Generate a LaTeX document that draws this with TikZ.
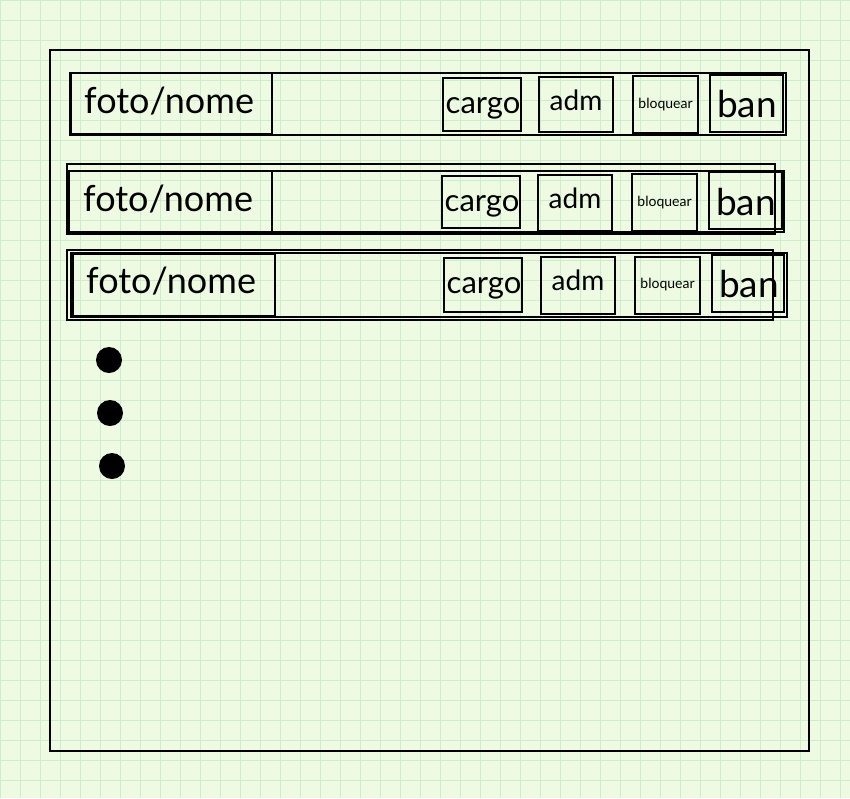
\documentclass[tikz,border=0pt]{standalone}
\usepackage{fontspec}
\setmainfont{Lato}
\definecolor{bgc}{RGB}{239,250,227}
\definecolor{gridc}{RGB}{205,236,205}
\tikzset{
  ln/.style={line width=1.5pt, black},
  thk/.style={line width=2.8pt, black},
  fototxt/.style={anchor=base west, inner sep=0pt, font=\fontsize{36}{40}\selectfont},
  cargotxt/.style={anchor=base, inner sep=0pt, font=\fontsize{31}{35}\selectfont},
  admtxt/.style={anchor=base, inner sep=0pt, font=\fontsize{28}{32}\selectfont},
  bloqtxt/.style={anchor=base, inner sep=0pt, font=\fontsize{14}{16}\selectfont},
  bantxt/.style={anchor=base, inner sep=0pt, font=\fontsize{37}{41}\selectfont},
  dot/.style={circle, fill=black, minimum size=26pt, inner sep=0pt}
}
\begin{document}
\begin{tikzpicture}[x=1pt,y=-1pt]
\useasboundingbox (0,0) rectangle (850,798);
\fill[bgc] (0,0) rectangle (850,798);
\foreach \i in {0,20,...,840} {\draw[gridc, line width=1pt] (\i,0) -- (\i,798);}
\foreach \j in {0,20,...,780} {\draw[gridc, line width=1pt] (0,\j) -- (850,\j);}
% outer frame
\draw[ln] (50,50) rectangle (809,751);
% row 1
\draw[ln] (70,73) rectangle (786,135);
\draw[thk] (786,73) -- (786,135);
\draw[ln] (70,73) rectangle (272,134);
\draw[thk] (71,73) -- (71,134) -- (272,134);
\draw[ln] (443,78) rectangle (521,131);
\draw[ln] (539,77) rectangle (613,132);
\draw[ln] (633,76) rectangle (698,133);
\draw[thk] (633,133) -- (698,133);
\draw[ln] (710,75) rectangle (783,132);
\node[fototxt] (f1) at (84,113) {foto/nome};
\node[cargotxt] (c1) at (483,113) {cargo};
\node[admtxt] (a1) at (576,110.5) {adm};
\node[bloqtxt] (b1) at (665.5,108.5) {bloquear};
\node[bantxt] (n1) at (747,117) {ban};
% row 2
\draw[ln] (67,164) rectangle (775,234);
\draw[ln] (68,171) rectangle (784,232);
\draw[thk] (69,171) -- (69,232) -- (784,232) -- (784,171);
\draw[ln] (68,171) rectangle (272,233);
\draw[ln] (442,176) rectangle (520,228);
\draw[ln] (538,175) rectangle (612,231);
\draw[thk] (538,231) -- (612,231);
\draw[ln] (632,174) rectangle (697,231);
\draw[ln] (709,172) rectangle (782,229);
\node[fototxt] (f2) at (83,211) {foto/nome};
\node[cargotxt] (c2) at (482,211) {cargo};
\node[admtxt] (a2) at (575,208.5) {adm};
\node[bloqtxt] (b2) at (664.5,206.5) {bloquear};
\node[bantxt] (n2) at (746,215) {ban};
% row 3
\draw[ln] (67,250) rectangle (773,320);
\draw[ln] (71,253) rectangle (787,317);
\draw[thk] (787,253) -- (787,317);
\draw[ln] (73,254) rectangle (275,316);
\draw[thk] (73,316) -- (275,316);
\draw[ln] (444,258) rectangle (522,312);
\draw[ln] (541,257) rectangle (615,314);
\draw[ln] (635,257) rectangle (700,314);
\draw[ln] (712,255) rectangle (784,312);
\node[fototxt] (f3) at (86,293) {foto/nome};
\node[cargotxt] (c3) at (484,293) {cargo};
\node[admtxt] (a3) at (578,290.5) {adm};
\node[bloqtxt] (b3) at (667.5,288.5) {bloquear};
\node[bantxt] (n3) at (749,297) {ban};
% dots
\node[dot] (d1) at (109,360) {};
\node[dot] (d2) at (110,413) {};
\node[dot] (d3) at (112,466) {};
\end{tikzpicture}
\end{document}
